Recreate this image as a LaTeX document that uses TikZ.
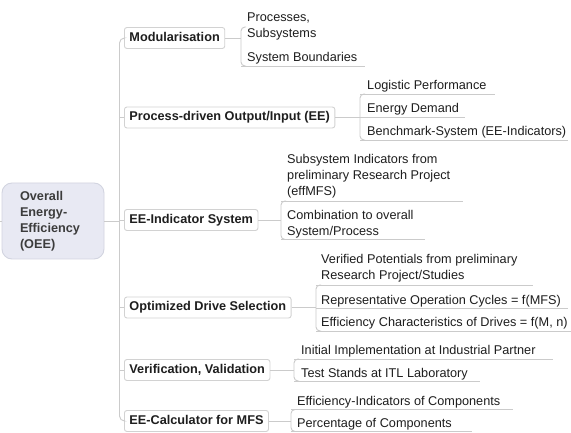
\documentclass[tikz,border=0pt]{standalone}
\usepackage{fontspec}
\setmainfont{Liberation Sans}
\usetikzlibrary{calc}
\definecolor{linec}{HTML}{CBCBCB}
\definecolor{boxb}{HTML}{D2D2D2}
\definecolor{rootfill}{HTML}{E8E9F3}
\definecolor{rootdraw}{HTML}{D2D4E0}
\definecolor{txt}{HTML}{1E1E1E}
\definecolor{roottxt}{HTML}{3C3C3C}
\begin{document}
\begin{tikzpicture}[x=1pt,y=-1pt,
  conn/.style={draw=linec,line width=0.9pt},
  bracket/.style={draw=linec,line width=0.9pt,rounded corners=4pt},
  rootbox/.style={draw=rootdraw,fill=rootfill,rounded corners=10pt,minimum width=102pt,minimum height=76pt,text width=66pt,align=left,inner sep=0pt,font=\fontsize{12.7}{16}\selectfont\bfseries,text=roottxt,line width=0.9pt},
  mainbox/.style={draw=boxb,fill=white,rounded corners=2.5pt,minimum height=21pt,inner xsep=5pt,inner ysep=0pt,text height=9.3pt,text depth=2.7pt,font=\fontsize{12.7}{16}\selectfont\bfseries,text=txt,anchor=west,line width=0.9pt},
  leaf/.style={anchor=base west,inner sep=0pt,align=left,font=\fontsize{12.7}{16}\selectfont,text=txt},
]
\useasboundingbox (0,0) rectangle (571,433);
\fill[white] (0,0) rectangle (571,433);

% root
\node[rootbox] (root) at (53,221) {Overall\\Energy-\\Efficiency\\(OEE)};
\coordinate (lst) at (0,221);
\draw[conn] (lst) -- (root.west);

% main topics
\node[mainbox] (mod)  at (124,38)    {Modularisation};
\node[mainbox] (proc) at (124,117.5) {Process-driven Output/Input (EE)};
\node[mainbox] (ind)  at (124,220)   {EE-Indicator System};
\node[mainbox] (opt)  at (124,307.5) {Optimized Drive Selection};
\node[mainbox] (ver)  at (124,370)   {Verification, Validation};
\node[mainbox] (calc) at (124,421)   {EE-Calculator for MFS};

\coordinate (sp) at (119.5,221);
\draw[conn] (root.east) -- (sp);
\draw[bracket,rounded corners=5pt] (mod.west) -| (sp) |- (calc.west);
\foreach \n in {proc,ind,opt,ver}{\draw[conn] (\n.west) -- (\n.west -| sp);}

% Modularisation (base anchor = last line's baseline)
\node[leaf] (m1) at (247,37.5) {Processes,\\Subsystems};
\node[leaf] (m2) at (247,61.5) {System Boundaries};
\coordinate (m1u) at (241,27);
\coordinate (m2u) at (241,66); \coordinate (m2e) at (365,66);
\draw[conn] (m2u) -- (m2e);
\draw[bracket] ($(m1u)+(5,0)$) -- (m1u) -- (m2u) -- ($(m2u)+(5,0)$);
\draw[conn] (mod.east) -- (mod.east -| m1u);

% Process-driven
\node[leaf] (p1) at (367,89.5)  {Logistic Performance};
\node[leaf] (p2) at (367,112.5) {Energy Demand};
\node[leaf] (p3) at (367,135.5) {Benchmark-System (EE-Indicators)};
\coordinate (p1u) at (360,94);  \coordinate (p1e) at (495,94);
\coordinate (p2u) at (360,117); \coordinate (p2e) at (465,117);
\coordinate (p3u) at (360,140); \coordinate (p3e) at (568,140);
\draw[conn] (p1u) -- (p1e);
\draw[conn] (p2u) -- (p2e);
\draw[conn] (p3u) -- (p3e);
\draw[bracket] ($(p1u)+(5,0)$) -- (p1u) -- (p3u) -- ($(p3u)+(5,0)$);
\draw[conn] (proc.east) -- (proc.east -| p1u);

% EE-Indicator System
\node[leaf] (i1) at (287,196) {Subsystem Indicators from\\preliminary Research Project\\(effMFS)};
\node[leaf] (i2) at (287,235.5) {Combination to overall\\System/Process};
\coordinate (i1u) at (281,201);   \coordinate (i1e) at (463,201);
\coordinate (i2u) at (281,239.5); \coordinate (i2e) at (425,239.5);
\draw[conn] (i1u) -- (i1e);
\draw[conn] (i2u) -- (i2e);
\draw[bracket] ($(i1u)+(5,0)$) -- (i1u) -- (i2u) -- ($(i2u)+(5,0)$);
\draw[conn] (ind.east) -- (ind.east -| i1u);

% Optimized Drive Selection
\node[leaf] (o1) at (321,279.5) {Verified Potentials from preliminary\\Research Project/Studies};
\node[leaf] (o2) at (321,304)   {Representative Operation Cycles = f(MFS)};
\node[leaf] (o3) at (321,326.5) {Efficiency Characteristics of Drives = f(M, n)};
\coordinate (o1u) at (316,285);   \coordinate (o1e) at (533,285);
\coordinate (o2u) at (316,308.5); \coordinate (o2e) at (568,308.5);
\coordinate (o3u) at (316,331);   \coordinate (o3e) at (571,331);
\draw[conn] (o1u) -- (o1e);
\draw[conn] (o2u) -- (o2e);
\draw[conn] (o3u) -- (o3e);
\draw[bracket] ($(o1u)+(5,0)$) -- (o1u) -- (o3u) -- ($(o3u)+(5,0)$);
\draw[conn] (opt.east) -- (opt.east -| o1u);

% Verification, Validation
\node[leaf] (v1) at (301,354.5) {Initial Implementation at Industrial Partner};
\node[leaf] (v2) at (301,377)   {Test Stands at ITL Laboratory};
\coordinate (v1u) at (294,359); \coordinate (v1e) at (553,359);
\coordinate (v2u) at (294,381); \coordinate (v2e) at (480,381);
\draw[conn] (v1u) -- (v1e);
\draw[conn] (v2u) -- (v2e);
\draw[bracket] ($(v1u)+(5,0)$) -- (v1u) -- (v2u) -- ($(v2u)+(5,0)$);
\draw[conn] (ver.east) -- (ver.east -| v1u);

% EE-Calculator for MFS
\node[leaf] (c1) at (297,405) {Efficiency-Indicators of Components};
\node[leaf] (c2) at (297,427) {Percentage of Components};
\coordinate (c1u) at (291,409.5); \coordinate (c1e) at (513,409.5);
\coordinate (c2u) at (291,431.5); \coordinate (c2e) at (472,431.5);
\draw[conn] (c1u) -- (c1e);
\draw[conn] (c2u) -- (c2e);
\draw[bracket] ($(c1u)+(5,0)$) -- (c1u) -- (c2u) -- ($(c2u)+(5,0)$);
\draw[conn] (calc.east) -- (calc.east -| c1u);
\end{tikzpicture}
\end{document}
